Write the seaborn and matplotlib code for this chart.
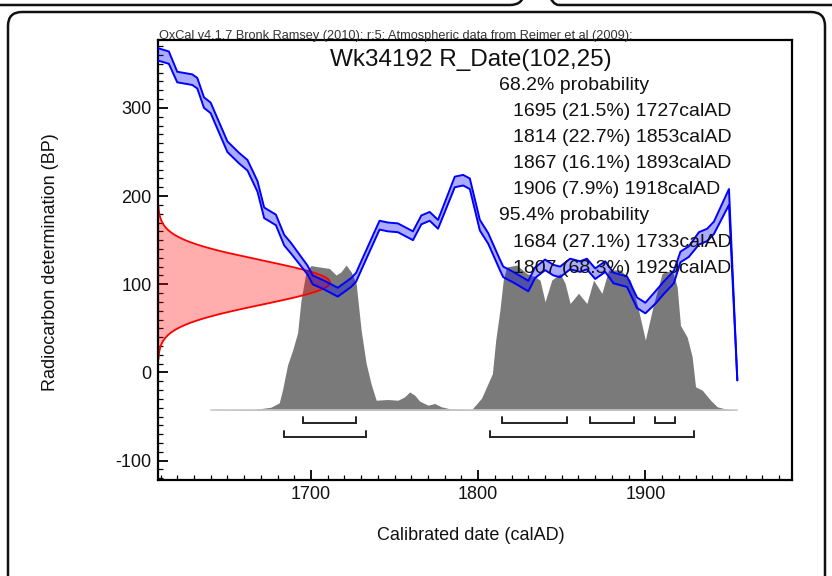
import numpy as np
import pandas as pd
import matplotlib
matplotlib.use("Agg")
import matplotlib.pyplot as plt
import seaborn as sns
from matplotlib.patches import FancyBboxPatch
from matplotlib.transforms import IdentityTransform
from matplotlib.ticker import MultipleLocator

sns.set_theme(style="white")
plt.rcParams['font.family'] = ['Liberation Sans', 'DejaVu Sans']
plt.rcParams['axes.unicode_minus'] = False

# ---------------- data ----------------
curve_year = [1608, 1615, 1620, 1629, 1632, 1636, 1640, 1650, 1657, 1662, 1668, 1672,
              1679, 1684, 1688, 1698, 1701, 1708, 1716, 1724, 1727, 1731, 1741, 1746,
              1752, 1761, 1766, 1771, 1776, 1786, 1791, 1795, 1801, 1806, 1813, 1815,
              1821, 1830, 1834, 1840, 1845, 1849, 1855, 1861, 1865, 1870, 1876, 1881,
              1889, 1895, 1900, 1906, 1911, 1917, 1921, 1926, 1932, 1937, 1941, 1950, 1955]
curve_bp = [361, 357, 335, 332, 328, 306, 300, 256, 243, 235, 211, 181,
            173, 150, 141, 116, 105, 99, 91, 102, 108, 125, 167, 165,
            164, 155, 173, 177, 168, 216, 218, 214, 167, 152, 122, 114,
            108, 98, 113, 122, 116, 114, 123, 120, 123, 112, 120, 107,
            103, 79, 73, 85, 96, 108, 131, 137, 152, 156, 164, 199, -9]
curve_sigma = [7, 7, 6, 6, 6, 6, 6, 6, 6, 6, 6, 6,
               6, 6, 6, 5, 5, 5, 5, 5, 5, 5, 5, 5,
               5, 5, 5, 5, 5, 6, 6, 6, 6, 6, 6, 6,
               6, 6, 6, 6, 6, 6, 6, 6, 6, 6, 6, 6,
               6, 6, 6, 7, 7, 7, 6, 6, 7, 7, 7, 9, 0]

post_year = [1640, 1666, 1676, 1681, 1683, 1686, 1689, 1692, 1694, 1697, 1700, 1705,
             1711, 1715, 1718, 1721, 1724, 1727, 1730, 1733, 1736, 1739, 1746, 1752,
             1756, 1759, 1762, 1765, 1770, 1774, 1778, 1784, 1796, 1802, 1806, 1808.5,
             1810.5, 1813, 1815, 1817, 1823, 1829, 1834, 1837, 1840, 1844, 1849, 1852,
             1855, 1860, 1865, 1869, 1874, 1878, 1885, 1891, 1895, 1900, 1905, 1910,
             1916, 1919, 1921, 1925, 1928, 1930, 1934, 1939, 1943, 1949, 1955]
post_prob = [0, 0.005, 0.02, 0.05, 0.14, 0.31, 0.41, 0.53, 0.75, 0.945, 0.99, 0.98,
             0.97, 0.925, 0.947, 0.993, 0.947, 0.868, 0.548, 0.32, 0.178, 0.068, 0.073, 0.068,
             0.091, 0.125, 0.103, 0.062, 0.034, 0.046, 0.023, 0.007, 0.003, 0.082, 0.185, 0.25,
             0.48, 0.685, 0.89, 0.98, 0.993, 0.936, 0.913, 0.89, 0.742, 0.89, 0.936, 0.868,
             0.73, 0.8, 0.73, 0.89, 0.8, 0.96, 0.96, 0.89, 0.73, 0.48, 0.73, 0.936,
             0.96, 0.845, 0.58, 0.5, 0.365, 0.16, 0.137, 0.068, 0.023, 0.005, 0]

rdate_mean = 102
rdate_sd = 25

range68 = [(1695, 1727), (1814, 1853), (1867, 1893), (1906, 1918)]
range95 = [(1684, 1733), (1807, 1929)]

title = "Wk34192 R_Date(102,25)"
credit = "OxCal v4.1.7 Bronk Ramsey (2010); r:5: Atmospheric data from Reimer et al (2009);"
prob_lines = ["68.2% probability",
              "1695 (21.5%) 1727calAD",
              "1814 (22.7%) 1853calAD",
              "1867 (16.1%) 1893calAD",
              "1906 (7.9%) 1918calAD",
              "95.4% probability",
              "1684 (27.1%) 1733calAD",
              "1807 (68.3%) 1929calAD"]
xticks = [1700, 1800, 1900]
yticks = [-100, 0, 100, 200, 300]

# ---------------- figure ----------------
W, H = 832, 576
fig = plt.figure(figsize=(W / 100, H / 100), dpi=100)
fig.patch.set_facecolor("white")

# outer card borders
def card(x0, y0, x1, y1, r=14):
    p = FancyBboxPatch((x0, H - y1), x1 - x0, y1 - y0,
                       boxstyle=f"round,pad=0,rounding_size={r}",
                       transform=IdentityTransform(), fill=False,
                       edgecolor="#111111", linewidth=1.8, zorder=0)
    fig.add_artist(p)

card(8, 12, 825, 620)
card(-30, -60, 524, 5)
card(545, -60, 870, 5)

L, R, T, B = 158, 792, 40, 480
ax = fig.add_axes([L / W, 1 - B / H, (R - L) / W, (B - T) / H])
xlim = (1608.5, 1987.7)
ylim = (-122, 377)
ax.set_xlim(*xlim)
ax.set_ylim(*ylim)

# posterior (gray)
base = -42.8
hgt = 165.7
post = pd.DataFrame({"year": post_year, "prob": post_prob})
post["top"] = base + post["prob"] * hgt
ax.fill_between(post["year"], base, post["top"], color="#7a7a7a", lw=0, zorder=1)
ax.plot([post_year[0], post_year[-1]], [base, base], color="#c8c8c8", lw=1.2, zorder=1.1)

# likelihood (red) along the y axis
z = np.linspace(-3.5, 3.5, 300)
lik_bp = rdate_mean + z * rdate_sd
lik_w = np.exp(-0.5 * z ** 2)
red_width = 102.9
lik_x = xlim[0] + lik_w * red_width
ax.fill_betweenx(lik_bp, xlim[0], lik_x, color=(1, 0, 0, 0.32), lw=0, zorder=2)
ax.plot(lik_x, lik_bp, color="red", lw=1.3, zorder=2.1)

# calibration curve (blue band)
cur = pd.DataFrame({"year": curve_year, "bp": curve_bp, "sig": curve_sigma})
cur["up"] = cur["bp"] + cur["sig"]
cur["lo"] = cur["bp"] - cur["sig"]
ax.fill_between(cur["year"], cur["lo"], cur["up"], color=(0, 0, 1, 0.33), lw=0, zorder=3)
sns.lineplot(data=cur, x="year", y="up", ax=ax, color="#0000ff", lw=1.4,
             estimator=None, sort=False, zorder=3.1)
sns.lineplot(data=cur, x="year", y="lo", ax=ax, color="#0000ff", lw=1.4,
             estimator=None, sort=False, zorder=3.1)

# range brackets
def bracket(a, b, y, h=7):
    ax.plot([a, a, b, b], [y + h, y, y, y + h], color="#222222", lw=1.4,
            solid_joinstyle="miter", zorder=4)

for a, b in range68:
    bracket(a, b, -57.5)
for a, b in range95:
    bracket(a, b, -73.8)

# axes styling
for s in ax.spines.values():
    s.set_linewidth(1.6)
    s.set_color("black")
ax.set_xticks(xticks)
ax.set_yticks(yticks)
ax.xaxis.set_minor_locator(MultipleLocator(10))
ax.yaxis.set_minor_locator(MultipleLocator(10))
ax.tick_params(which="major", direction="in", length=7.5, width=1.3, color="black",
               labelsize=13, labelcolor="#111111", bottom=True, left=True, top=False, right=False)
ax.tick_params(axis="y", which="major", pad=4.5)
ax.tick_params(axis="x", which="major", pad=4)
ax.tick_params(which="minor", direction="in", length=3.8, width=0.9, color="black",
               bottom=True, left=True, top=False, right=False)
ax.set_ylabel("")
ax.set_xlabel("")
fig.text(51 / W, 1 - 262 / H, "Radiocarbon determination (BP)", rotation=90,
         ha="center", va="center", fontsize=13, color="#111111")
fig.text(471 / W, 1 - 535 / H, "Calibrated date (calAD)",
         ha="center", va="center", fontsize=13, color="#111111")

# texts
fig.text(159 / W, 1 - 38.5 / H, credit, fontsize=9.2, color="#333333", va="baseline", ha="left")
fig.text(471 / W, 1 - 60 / H, title, fontsize=17.5, color="#111111", ha="center", va="center")
for i, line in enumerate(prob_lines):
    yy = 85 + 26.2 * i
    xx = 499 if "probability" in line else 513
    fig.text(xx / W, 1 - yy / H, line, fontsize=14, color="#111111", ha="left", va="center",
             zorder=10)

fig.savefig("out.png", dpi=100)
